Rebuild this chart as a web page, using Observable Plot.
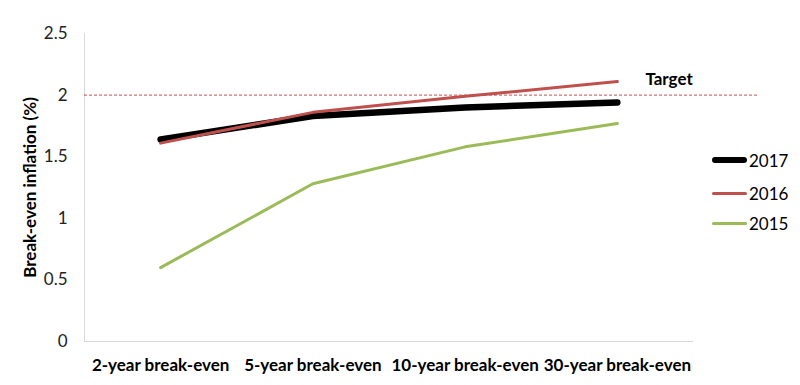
<!DOCTYPE html>
<html>
<head>
<meta charset="utf-8">
<script src="https://cdn.jsdelivr.net/npm/d3@7"></script>
<script src="https://cdn.jsdelivr.net/npm/@observablehq/plot@0.6"></script>
<style>
  body { margin: 0; background: #fff; font-family: Lato, sans-serif; }
  #wrap { position: relative; width: 800px; height: 385px; }
  .lg-row { position: absolute; height: 20px; display: flex; align-items: center; font-size: 17px; color: #000; }
  .lg-swatch { display: inline-block; width: 35px; border-radius: 3px; margin-right: 2px; }
</style>
</head>
<body>
<div id="wrap"></div>
<script>
const categories = ["2-year break-even", "5-year break-even", "10-year break-even", "30-year break-even"];
const years = ["2017", "2016", "2015"];
const values2017 = [1.64, 1.83, 1.90, 1.94];
const values2016 = [1.61, 1.86, 1.99, 2.11];
const values2015 = [0.60, 1.28, 1.58, 1.77];
const target = 2;
const yTicks = [0, 0.5, 1, 1.5, 2, 2.5];

const colors = {"2017": "#000000", "2016": "#C0504D", "2015": "#9BBB59"};
const widths = {"2017": 6.5, "2016": 3, "2015": 3};
const seriesValues = {"2017": values2017, "2016": values2016, "2015": values2015};

const rows = years.flatMap(yr => seriesValues[yr].map((v, i) => ({year: yr, idx: i, value: v})));
const xDomain = [-0.5, categories.length - 0.5];

const chart = Plot.plot({
  width: 800,
  height: 385,
  marginLeft: 84,
  marginRight: 41,
  marginTop: 33,
  marginBottom: 44,
  style: {fontFamily: "Lato, sans-serif", fontSize: "17px", color: "#000", background: "transparent"},
  x: {type: "linear", domain: xDomain, range: [84, 693]},
  y: {domain: [0, 2.5]},
  marks: [
    Plot.ruleX([xDomain[0]], {y1: 0, y2: 2.5, stroke: "#d9d9d9", strokeWidth: 1}),
    Plot.ruleY([0], {x1: xDomain[0], x2: xDomain[1], stroke: "#d9d9d9", strokeWidth: 1}),
    Plot.axisY({ticks: yTicks, tickSize: 0, tickPadding: 17, tickFormat: d => String(d), label: null, fontSize: 17, fill: "#222"}),
    Plot.axisX({ticks: categories.map((c, i) => i), tickSize: 0, tickPadding: 17, tickFormat: i => categories[i], label: null, fontWeight: "bold", fontSize: 17, fill: "#000"}),
    Plot.ruleY([target], {stroke: "#C0504D", strokeWidth: 1, strokeDasharray: "3,2"}),
    ...years.map(yr => Plot.line(rows.filter(d => d.year === yr), {
      x: "idx", y: "value", stroke: colors[yr], strokeWidth: widths[yr], strokeLinecap: "round", strokeLinejoin: "round"
    })),
    Plot.text([target], {x: () => categories.length - 1, y: d => d, text: () => "Target", dx: 28, dy: -16, textAnchor: "start", fontWeight: "bold", fontSize: 17}),
    Plot.text(["Break-even inflation (%)"], {frameAnchor: "left", textAnchor: "middle", rotate: -90, dx: -54, fontWeight: "bold", fontSize: 17, text: d => d})
  ]
});

const wrap = document.getElementById("wrap");
wrap.appendChild(chart);

const legendTops = [150, 183, 213];
years.forEach((yr, k) => {
  const row = document.createElement("div");
  row.className = "lg-row";
  row.style.left = "712px";
  row.style.top = legendTops[k] + "px";
  const sw = document.createElement("span");
  sw.className = "lg-swatch";
  sw.style.background = colors[yr];
  sw.style.height = (yr === "2017" ? 6 : 3) + "px";
  row.appendChild(sw);
  const tx = document.createElement("span");
  tx.textContent = yr;
  row.appendChild(tx);
  wrap.appendChild(row);
});
</script>
</body>
</html>
